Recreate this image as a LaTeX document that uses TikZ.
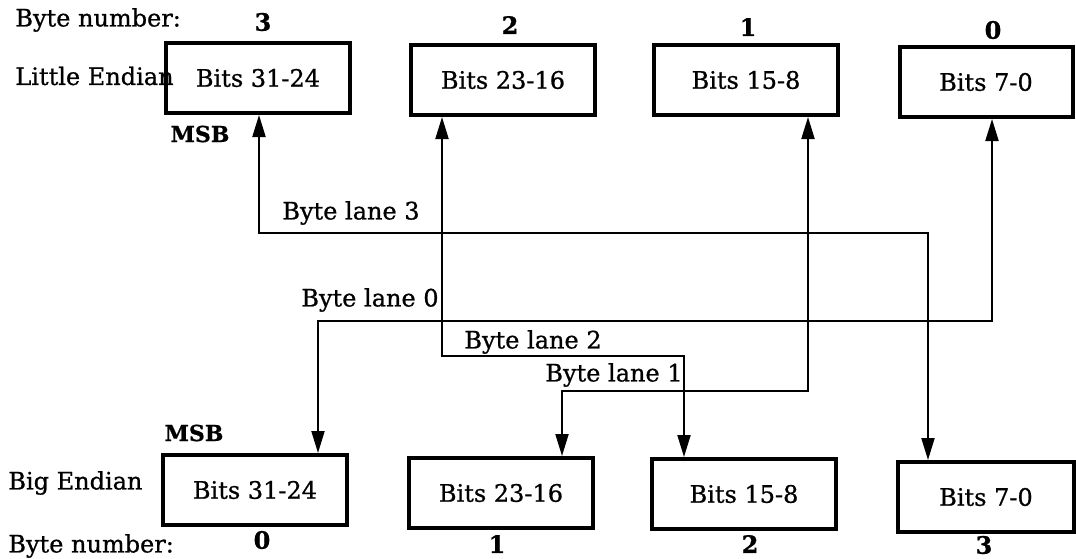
\documentclass[tikz,border=0pt]{standalone}
\usepackage{fontspec}
\setmainfont{DejaVu Serif}[FakeBold=0.8]
\usetikzlibrary{arrows.meta}

\begin{document}
\begin{tikzpicture}[x=0.5pt, y=-0.5pt, font=\fontsize{12}{14}\selectfont]
        \tikzstyle{byte}=[draw, rectangle, line width=2pt, minimum width=92pt, minimum height=35pt, inner sep=0pt]
        \tikzstyle{lane}=[line width=1pt, {Triangle[length=11pt,width=6.5pt]}-{Triangle[length=11pt,width=6.5pt]}]
        \tikzstyle{lbl}=[inner sep=0pt]
        \tikzstyle{num}=[inner sep=0pt, font=\fontsize{12}{14}\selectfont\bfseries]

        \useasboundingbox (0,0) rectangle (1076,558);

        % little endian row
        \node[lbl, anchor=west] (lbytenum) at (15,20) {Byte number:};
        \node[lbl, anchor=west] (little) at (15,76) {Little Endian};
        \node[byte] (lit31) at (258,78) {Bits 31-24};
        \node[byte] (lit23) at (503,80) {Bits 23-16};
        \node[byte] (lit15) at (746,80) {Bits 15-8};
        \node[byte, minimum width=86.5pt] (lit7) at (986,82) {Bits 7-0};
        \node[num] (lnum3) at (263,22) {3};
        \node[num] (lnum2) at (510,25) {2};
        \node[num] (lnum1) at (748,27) {1};
        \node[num] (lnum0) at (993,30) {0};
        \node[lbl, font=\fontsize{11}{12}\selectfont\bfseries] (lmsb) at (200,134) {MSB};

        % big endian row
        \node[lbl, font=\fontsize{11}{12}\selectfont\bfseries] (bmsb) at (194,433) {MSB};
        \node[lbl, anchor=west] (big) at (8,483) {Big Endian};
        \node[byte] (big31) at (255,490) {Bits 31-24};
        \node[byte] (big23) at (501,493) {Bits 23-16};
        \node[byte] (big15) at (744,494) {Bits 15-8};
        \node[byte, minimum width=88pt] (big7) at (986,497) {Bits 7-0};
        \node[lbl, anchor=west] (bbytenum) at (8,546) {Byte number:};
        \node[num] (bnum0) at (262,540) {0};
        \node[num] (bnum1) at (497,544) {1};
        \node[num] (bnum2) at (750,544) {2};
        \node[num] (bnum3) at (984,545) {3};

        % byte lanes
        \coordinate (l3a) at (259,233);
        \coordinate (l3b) at (928,233);
        \coordinate (l0a) at (992,321);
        \coordinate (l0b) at (318,321);
        \coordinate (l2a) at (442,356);
        \coordinate (l2b) at (684,356);
        \coordinate (l1a) at (808,391);
        \coordinate (l1b) at (562,391);

        \draw[lane] (lit31.south -| l3a) -- (l3a) -- (l3b) -- (big7.north -| l3b);
        \draw[lane] (lit7.south -| l0a) -- (l0a) -- (l0b) -- (big31.north -| l0b);
        \draw[lane] (lit23.south -| l2a) -- (l2a) -- (l2b) -- (big15.north -| l2b);
        \draw[lane] (lit15.south -| l1a) -- (l1a) -- (l1b) -- (big23.north -| l1b);

        \node[lbl] (lane3) at (351,213) {Byte lane 3};
        \node[lbl, anchor=east] (lane0) at (439,300) {Byte lane 0};
        \node[lbl] (lane2) at (533,342) {Byte lane 2};
        \node[lbl, anchor=east] (lane1) at (683,375) {Byte lane 1};
    \end{tikzpicture}
\end{document}
